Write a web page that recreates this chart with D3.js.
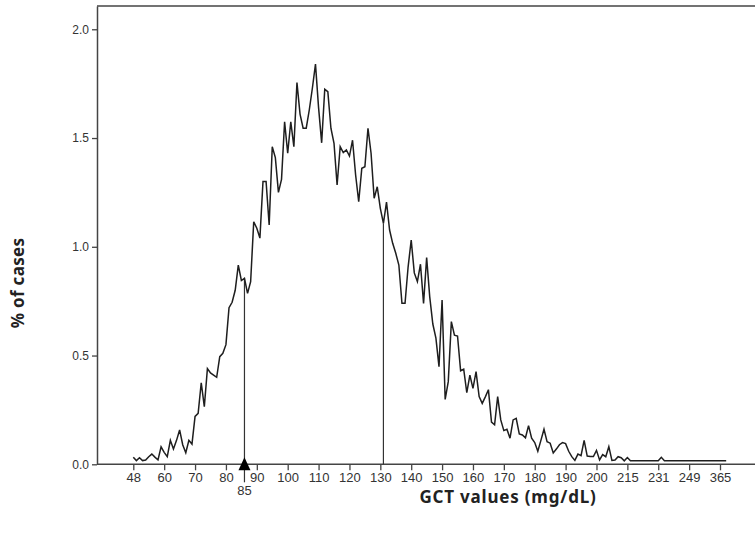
<!DOCTYPE html>
<html>
<head>
<meta charset="utf-8">
<script src="https://cdn.jsdelivr.net/npm/d3@7"></script>
<style>
  html, body { margin: 0; padding: 0; background: #fff; }
  svg { display: block; }
</style>
</head>
<body>
<div id="chart"></div>
<script>
// % of cases per distinct GCT value (index = rank of the value on the x axis)
const pctCases = [
  0.032, 0.017, 0.03, 0.017, 0.02, 0.035, 0.047, 0.033, 0.02, 0.08,
  0.055, 0.035, 0.11, 0.07, 0.11, 0.158, 0.09, 0.053, 0.11, 0.093,
  0.22, 0.234, 0.375, 0.265, 0.44, 0.42, 0.41, 0.40, 0.495, 0.51,
  0.55, 0.72, 0.745, 0.80, 0.916, 0.845, 0.855, 0.786, 0.84, 1.115,
  1.085, 1.04, 1.30, 1.30, 1.10, 1.46, 1.41, 1.25, 1.31, 1.575,
  1.43, 1.575, 1.46, 1.755, 1.61, 1.545, 1.545, 1.63, 1.73, 1.84,
  1.64, 1.478, 1.724, 1.713, 1.545, 1.476, 1.284, 1.46, 1.433, 1.445,
  1.417, 1.49, 1.33, 1.207, 1.361, 1.368, 1.545, 1.43, 1.223, 1.276,
  1.177, 1.108, 1.205, 1.077, 1.016, 0.97, 0.916, 0.74, 0.74, 0.908,
  1.031, 0.88, 0.84, 0.92, 0.74, 0.95, 0.77, 0.645, 0.58, 0.449,
  0.755, 0.298, 0.38, 0.656, 0.594, 0.59, 0.43, 0.437, 0.329, 0.41,
  0.349, 0.426, 0.311, 0.28, 0.31, 0.343, 0.194, 0.182, 0.311, 0.204,
  0.155, 0.161, 0.12, 0.204, 0.211, 0.14, 0.135, 0.122, 0.178, 0.12,
  0.10, 0.06, 0.11, 0.161, 0.104, 0.097, 0.052, 0.07, 0.09, 0.10,
  0.095, 0.06, 0.035, 0.018, 0.047, 0.04, 0.11, 0.038, 0.036, 0.036,
  0.064, 0.02, 0.045, 0.035, 0.081, 0.018, 0.02, 0.035, 0.03, 0.016,
  0.031, 0.016, 0.016, 0.016, 0.016, 0.016, 0.016, 0.016, 0.016, 0.016,
  0.016, 0.032, 0.016, 0.016, 0.016, 0.016, 0.016, 0.016, 0.016, 0.016,
  0.016, 0.016, 0.016, 0.016, 0.016, 0.016, 0.016, 0.016, 0.016, 0.016,
  0.016, 0.016, 0.016
]

// every 10th category is labelled
const tickIndex = [0, 10, 20, 30, 40, 50, 60, 70, 80, 90, 100, 110, 120, 130, 140, 150, 160, 170, 180, 190]
const tickLabels = ['48', '60', '70', '80', '90', '100', '110', '120', '130', '140',
  '150', '160', '170', '180', '190', '200', '215', '231', '249', '365']
const yTicks = [0, 0.5, 1.0, 1.5, 2.0]

// cut-off markers: category index and label
const markerIndex = [36, 81]
const markerLabels = ['85', '']

const width = 755
const height = 539
const plotLeft = 97
const plotTop = 6
const plotBottom = 464.3

const svg = d3.select('#chart')
  .append('svg')
    .attr('width', width)
    .attr('height', height)

const x = d3.scaleLinear()
  .domain([0, 190])
  .range([133.3, 720])

const y = d3.scaleLinear()
  .domain([0, 2.107])
  .range([plotBottom, plotTop])

const axisColor = '#444'
const textColor = '#333'
const font = '"Liberation Sans", Arial, sans-serif'
const titleFont = '"Noto Sans", "Open Sans", sans-serif'

// frame: top line and x baseline run to the right edge
svg.append('line')
  .attr('x1', plotLeft).attr('x2', width)
  .attr('y1', plotTop).attr('y2', plotTop)
  .attr('stroke', axisColor).attr('stroke-width', 1.5)

svg.append('line')
  .attr('x1', plotLeft).attr('x2', width)
  .attr('y1', y(0)).attr('y2', y(0))
  .attr('stroke', axisColor).attr('stroke-width', 1.5)

const yAxis = svg.append('g')
  .attr('transform', `translate(${plotLeft},0)`)
  .call(d3.axisLeft(y)
    .tickValues(yTicks)
    .tickFormat(d3.format('.1f'))
    .tickSize(5)
    .tickSizeOuter(0))
yAxis.select('.domain').attr('stroke', axisColor).attr('stroke-width', 1.5)
yAxis.selectAll('.tick line').attr('stroke', axisColor).attr('stroke-width', 1.3)
yAxis.selectAll('.tick text')
  .attr('fill', textColor)
  .attr('font-family', font)
  .attr('font-size', 12)
  .attr('x', -8)

const xAxis = svg.append('g')
  .attr('transform', `translate(0,${y(0)})`)
  .call(d3.axisBottom(x)
    .tickValues(tickIndex)
    .tickFormat((d, i) => tickLabels[i])
    .tickSize(6)
    .tickSizeOuter(0))
xAxis.select('.domain').remove()
xAxis.selectAll('.tick line').attr('stroke', axisColor).attr('stroke-width', 1.3)
xAxis.selectAll('.tick text')
  .attr('fill', textColor)
  .attr('font-family', font)
  .attr('font-size', 13)
  .attr('y', 8)

// marker lines up to the curve
markerIndex.forEach((mi, k) => {
  const mx = x(mi)
  const bottom = markerLabels[k] ? y(0) + 18 : y(0)
  svg.append('line')
    .attr('x1', mx).attr('x2', mx)
    .attr('y1', y(pctCases[mi])).attr('y2', bottom)
    .attr('stroke', '#333').attr('stroke-width', 1.2)
  if (markerLabels[k]) {
    const base = y(0) + 6
    svg.append('path')
      .attr('d', `M${mx - 6},${base} L${mx + 6},${base} L${mx},${base - 13} Z`)
      .attr('fill', '#000')
    svg.append('text')
      .attr('x', mx)
      .attr('y', y(0) + 31)
      .attr('text-anchor', 'middle')
      .attr('fill', textColor)
      .attr('font-family', font)
      .attr('font-size', 13)
      .text(markerLabels[k])
  }
})

const line = d3.line()
  .x((d, i) => x(i))
  .y(d => y(d))

svg.append('path')
  .datum(pctCases)
  .attr('d', line)
  .attr('fill', 'none')
  .attr('stroke', '#1e1e1e')
  .attr('stroke-width', 1.5)
  .attr('stroke-linejoin', 'miter')

// axis titles
svg.append('text')
  .attr('x', 508)
  .attr('y', 503)
  .attr('text-anchor', 'middle')
  .attr('font-family', titleFont)
  .attr('font-weight', 'bold')
  .attr('font-size', 17)
  .attr('letter-spacing', 0.8)
  .attr('fill', '#222')
  .text('GCT values (mg/dL)')

svg.append('text')
  .attr('transform', 'translate(24,283) rotate(-90)')
  .attr('text-anchor', 'middle')
  .attr('font-family', titleFont)
  .attr('font-weight', 'bold')
  .attr('font-size', 17)
  .attr('letter-spacing', 0.3)
  .attr('fill', '#222')
  .text('% of cases')
</script>
</body>
</html>
